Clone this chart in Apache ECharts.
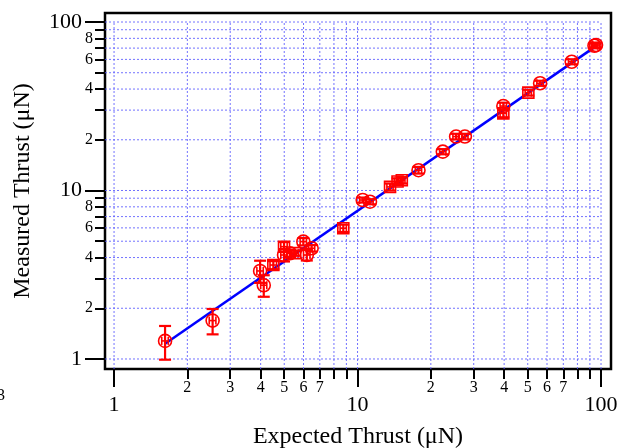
<!DOCTYPE html>
<html><head><meta charset="utf-8">
<script src="https://cdn.jsdelivr.net/npm/echarts@6/dist/echarts.min.js"></script>
<style>html,body{margin:0;padding:0;background:#fff}#c{width:622px;height:448px}</style>
</head><body><div id="c"></div>
<script>
// ---- data ----
const expectedX = [1.62, 2.54, 3.98, 4.12, 4.51, 4.99, 4.99, 5.28, 5.54, 5.99, 6.19, 6.48, 8.74, 10.5, 11.25, 13.6, 14.6, 15.2, 17.8, 22.4, 25.4, 27.6, 39.7, 39.7, 50.3, 56.2, 75.8, 95.4, 94.0];
const measuredY = [1.28, 1.69, 3.33, 2.74, 3.61, 4.64, 4.14, 4.24, 4.25, 4.97, 4.14, 4.54, 5.97, 8.78, 8.58, 10.5, 11.3, 11.5, 13.2, 17.0, 20.9, 20.9, 31.7, 28.7, 38.1, 43.3, 58.1, 73.0, 72.3];
const yErr =      [0.29, 0.29, 0.5, 0.4, 0.2, 0.3, 0.35, 0.2, 0.15, 0.25, 0.3, 0.2, 0.3, 0.3, 0.3, 0.5, 0.5, 0.5, 0.6, 0.6, 0.8, 0.8, 1.5, 1.5, 1.5, 1.5, 2.0, 2.5, 2.5];
const xErr =      [0.05, 0.08, 0.12, 0.12, 0.14, 0.15, 0.15, 0.16, 0.17, 0.18, 0.19, 0.19, 0.26, 0.3, 0.34, 0.4, 0.44, 0.46, 0.53, 0.67, 0.76, 0.83, 1.2, 1.2, 1.5, 1.7, 2.3, 2.9, 2.8];
const markerShape = ['c','c','c','c','s','s','c','c','s','c','c','c','s','c','c','s','s','s','c','c','c','c','c','s','s','c','c','c','c'];
const fitX = [1.62, 96.0];
const fitY = [1.23, 72.4];

const xMajorTicks = [1, 10, 100];
const xMinorTicks = [2,3,4,5,6,7,8,9,20,30,40,50,60,70,80,90];
const xMinorLabels = [2,3,4,5,6,7,20,30,40,50,60,70];
const yMajorTicks = [1, 10, 100];
const yMinorTicks = [2,3,4,5,6,7,8,9,20,30,40,50,60,70,80,90];
const yMinorLabels = [2,4,6,8,20,40,60,80];
const gridValues = [1,2,3,4,5,6,7,8,9,10,20,30,40,50,60,70,80,90,100];

const X_MIN = 0.918, X_MAX = 109.9, Y_MIN = 0.872, Y_MAX = 113.1;
const FONT = '"Liberation Serif", "Times New Roman", serif';

const chart = echarts.init(document.getElementById('c'), null, {renderer: 'canvas'});
const lead = v => String(Math.round(v / Math.pow(10, Math.floor(Math.log10(v) + 1e-9))));

function xAx(ticks, labels, tickLen, fs, margin, extra) {
  return Object.assign({
    type: 'log', logBase: 10, min: X_MIN, max: X_MAX, gridIndex: 0, position: 'bottom',
    axisLine: {show: false}, splitLine: {show: false}, minorTick: {show: false}, minorSplitLine: {show: false},
    axisTick: {show: true, customValues: ticks, length: tickLen, lineStyle: {color: '#000', width: 2}},
    axisLabel: {customValues: labels, margin: margin, fontSize: fs, fontFamily: FONT, color: '#000', hideOverlap: false,
      formatter: v => fs > 18 ? String(Math.round(v)) : lead(v)}
  }, extra || {});
}
function yAx(ticks, labels, tickLen, fs, margin, extra) {
  return Object.assign({
    type: 'log', logBase: 10, min: Y_MIN, max: Y_MAX, gridIndex: 0, position: 'left',
    axisLine: {show: false}, splitLine: {show: false}, minorTick: {show: false}, minorSplitLine: {show: false},
    axisTick: {show: true, customValues: ticks, length: tickLen, lineStyle: {color: '#000', width: 2}},
    axisLabel: {customValues: labels, margin: margin, fontSize: fs, fontFamily: FONT, color: '#000', hideOverlap: false,
      formatter: v => fs > 18 ? String(Math.round(v)) : lead(v)}
  }, extra || {});
}

const gridStyle = {stroke: 'rgba(90,90,255,0.85)', lineWidth: 1, lineDash: [2, 2]};

const pointData = expectedX.map((x, i) => [x, measuredY[i], yErr[i], xErr[i], markerShape[i] === 's' ? 1 : 0]);

function renderPoint(params, api) {
  const x = api.value(0), y = api.value(1), ey = api.value(2), ex = api.value(3), shp = api.value(4);
  const c = api.coord([x, y]);
  const t = api.coord([x, y + ey]);
  const b = api.coord([x, y - ey]);
  const l = api.coord([x - ex, y]);
  const r = api.coord([x + ex, y]);
  const st = {stroke: '#ff0000', lineWidth: 2.2, fill: null};
  const mst = {stroke: '#ff0000', lineWidth: 1.6, fill: null};
  const cap = 6, hcap = 4;
  const ch = [
    {type: 'line', shape: {x1: t[0], y1: t[1], x2: b[0], y2: b[1]}, style: st},
    {type: 'line', shape: {x1: t[0] - cap, y1: t[1], x2: t[0] + cap, y2: t[1]}, style: st},
    {type: 'line', shape: {x1: b[0] - cap, y1: b[1], x2: b[0] + cap, y2: b[1]}, style: st},
    {type: 'line', shape: {x1: l[0], y1: l[1], x2: r[0], y2: r[1]}, style: mst},
    {type: 'line', shape: {x1: l[0], y1: l[1] - hcap, x2: l[0], y2: l[1] + hcap}, style: mst},
    {type: 'line', shape: {x1: r[0], y1: r[1] - hcap, x2: r[0], y2: r[1] + hcap}, style: mst}
  ];
  if (shp === 1) ch.push({type: 'rect', shape: {x: c[0] - 5.5, y: c[1] - 5.5, width: 11, height: 11}, style: mst});
  else ch.push({type: 'circle', shape: {cx: c[0], cy: c[1], r: 6.5}, style: mst});
  return {type: 'group', children: ch};
}

chart.setOption({
  animation: false,
  backgroundColor: '#fff',
  grid: {left: 105, top: 13, width: 506, height: 356, show: true, borderColor: '#000', borderWidth: 2.5,
    containLabel: false, outerBoundsMode: 'none'},
  xAxis: [
    xAx(xMajorTicks, xMajorTicks, 18, 22, 25, {name: 'Expected Thrust (μN)', nameLocation: 'middle', nameGap: 56,
      nameTextStyle: {fontSize: 24, fontFamily: FONT, color: '#000'}}),
    xAx(xMinorTicks, xMinorLabels, 10, 16, 11)
  ],
  yAxis: [
    yAx(yMajorTicks, yMajorTicks, 20, 22, 23, {name: 'Measured Thrust (μN)', nameLocation: 'middle', nameGap: 70, nameRotate: 90,
      nameTextStyle: {fontSize: 24, fontFamily: FONT, color: '#000'}}),
    yAx(yMinorTicks, yMinorLabels, 10, 16, 12)
  ],
  graphic: [
    {type: 'text', left: -3, top: 388, style: {text: '3', font: '16px ' + FONT, fill: '#000'}}
  ],
  series: [
    {type: 'custom', name: 'vgrid', xAxisIndex: 0, yAxisIndex: 0, z: 1, silent: true,
      data: gridValues.map(v => [v]),
      renderItem: (p, api) => {
        const a = api.coord([api.value(0), Y_MIN]);
        const b = api.coord([api.value(0), 100]);
        return {type: 'line', shape: {x1: a[0], y1: a[1], x2: b[0], y2: b[1]}, style: gridStyle};
      }},
    {type: 'custom', name: 'hgrid', xAxisIndex: 0, yAxisIndex: 0, z: 1, silent: true,
      data: gridValues.map(v => [X_MIN, v]),
      renderItem: (p, api) => {
        const a = api.coord([X_MIN, api.value(1)]);
        const b = api.coord([100, api.value(1)]);
        return {type: 'line', shape: {x1: a[0], y1: a[1], x2: b[0], y2: b[1]}, style: gridStyle};
      }},
    {type: 'line', name: 'fit', xAxisIndex: 0, yAxisIndex: 0, z: 3, symbol: 'none',
      data: fitX.map((x, i) => [x, fitY[i]]),
      lineStyle: {color: '#0000ff', width: 2.5}},
    {type: 'custom', name: 'points', xAxisIndex: 0, yAxisIndex: 0, z: 4,
      data: pointData, renderItem: renderPoint}
  ]
});
</script>
</body></html>
